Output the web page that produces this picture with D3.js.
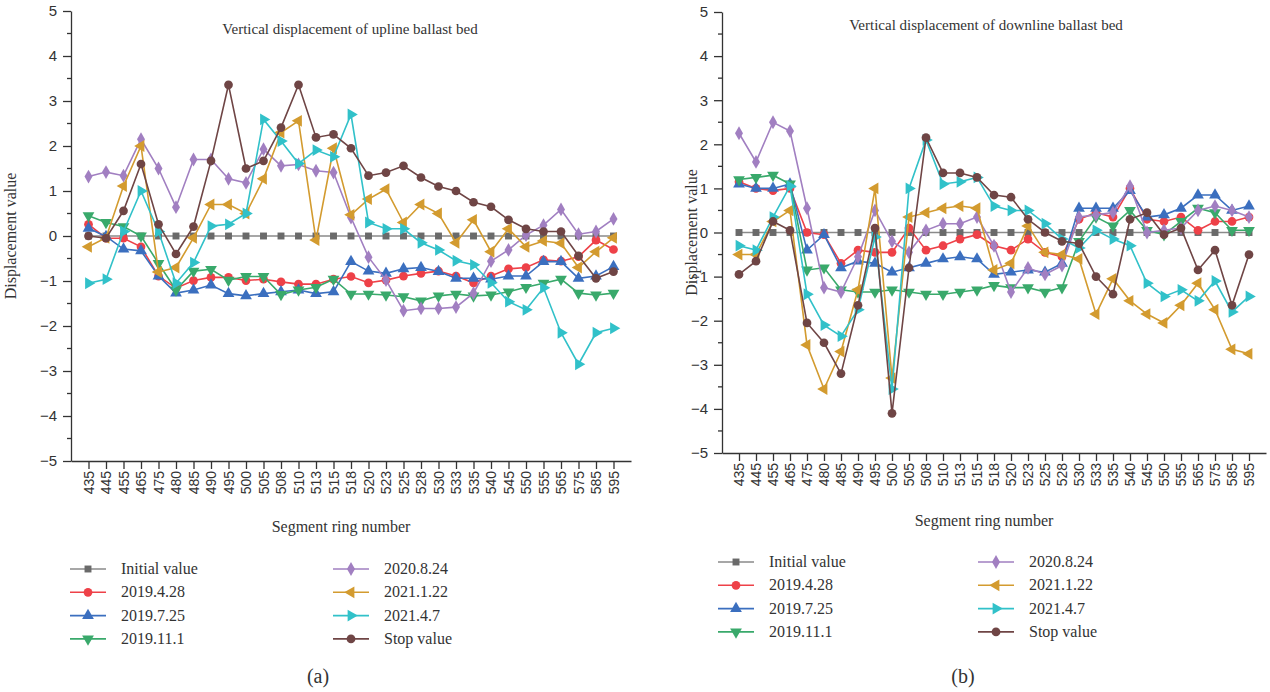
<!DOCTYPE html>
<html lang="en">
<head>
<meta charset="UTF-8">
<title>Vertical displacement of ballast bed</title>
<script src="https://d3js.org/d3.v7.min.js"></script>
<style>
body {
  margin: 0;
  background: #fff;
}
svg {
  font-family: "Liberation Serif", "DejaVu Serif", serif;
}
.tick text {
  fill: #333;
}
</style>
</head>
<body>
<svg id="chart" width="1270" height="692"></svg>
<script>

// ring numbers on the x axis (same for both panels)
var rings = ["435","445","455","465","475","480","485","490","495","500","505","508","510","513","515",
  "518","520","523","525","528","530","533","535","540","545","550","555","565","575","585","595"];

var seriesNames = ["Initial value", "2019.4.28", "2019.7.25", "2019.11.1",
  "2020.8.24", "2021.1.22", "2021.4.7", "Stop value"];

// (a) upline ballast bed
var upInitial = rings.map(function() { return 0; });
var up20190428 = [0.26,-0.05,-0.05,-0.24,-0.89,-1.16,-0.99,-0.92,-0.92,-0.99,-0.96,-1.02,-1.07,-1.07,-0.96,
  -0.9,-1.04,-0.98,-0.89,-0.83,-0.78,-0.89,-1.04,-0.89,-0.73,-0.7,-0.53,-0.56,-0.46,-0.09,-0.3];
var up20190725 = [0.17,-0.01,-0.29,-0.33,-0.89,-1.27,-1.2,-1.09,-1.28,-1.33,-1.28,-1.24,-1.2,-1.28,-1.24,
  -0.57,-0.78,-0.83,-0.73,-0.7,-0.79,-0.94,-0.94,-0.96,-0.89,-0.89,-0.57,-0.57,-0.94,-0.89,-0.68];
var up20191101 = [0.45,0.3,0.21,0.0,-0.61,-1.2,-0.78,-0.74,-0.98,-0.9,-0.9,-1.3,-1.2,-1.14,-0.96,
  -1.29,-1.29,-1.31,-1.35,-1.44,-1.33,-1.29,-1.33,-1.31,-1.24,-1.14,-1.05,-0.96,-1.27,-1.31,-1.27];
var up20200824 = [1.32,1.42,1.34,2.15,1.5,0.64,1.7,1.7,1.27,1.18,1.93,1.56,1.59,1.45,1.41,
  0.41,-0.47,-0.98,-1.66,-1.61,-1.61,-1.58,-1.27,-0.56,-0.31,0.02,0.24,0.59,0.04,0.1,0.38];
var up20210122 = [-0.24,-0.04,1.11,2.0,-0.8,-0.7,-0.04,0.7,0.7,0.5,1.27,2.3,2.56,-0.09,1.95,
  0.47,0.82,1.04,0.3,0.7,0.5,-0.15,0.36,-0.35,0.16,-0.24,-0.11,-0.16,-0.7,-0.35,-0.04];
var up20210407 = [-1.05,-0.96,0.1,1.0,0.1,-1.05,-0.59,0.22,0.26,0.5,2.59,2.11,1.61,1.91,1.76,
  2.7,0.3,0.16,0.16,-0.15,-0.31,-0.55,-0.64,-1.04,-1.46,-1.64,-1.15,-2.15,-2.85,-2.15,-2.05];
var upStop = [0.0,-0.05,0.56,1.6,0.26,-0.4,0.21,1.67,3.36,1.5,1.67,2.41,3.36,2.19,2.26,
  1.95,1.34,1.41,1.56,1.3,1.1,1.0,0.75,0.65,0.36,0.16,0.1,0.1,-0.44,-0.94,-0.79];

// (b) downline ballast bed
var downInitial = rings.map(function() { return 0; });
var down20190428 = [1.15,1.0,0.95,1.0,0.0,-0.05,-0.7,-0.4,-0.45,-0.45,0.1,-0.4,-0.3,-0.15,-0.05,
  -0.3,-0.4,-0.15,-0.45,-0.55,0.3,0.45,0.35,1.0,0.3,0.25,0.35,0.05,0.25,0.25,0.35];
var down20190725 = [1.1,1.0,1.0,1.1,-0.4,-0.05,-0.8,-0.65,-0.7,-0.9,-0.8,-0.7,-0.6,-0.55,-0.6,
  -0.95,-0.9,-0.85,-0.9,-0.7,0.55,0.55,0.55,0.95,0.35,0.4,0.55,0.85,0.85,0.5,0.6];
var down20191101 = [1.2,1.25,1.3,1.1,-0.85,-0.8,-1.3,-1.35,-1.35,-1.3,-1.35,-1.4,-1.4,-1.35,-1.3,
  -1.2,-1.25,-1.25,-1.35,-1.25,-0.2,0.35,0.15,0.5,0.05,-0.05,0.25,0.55,0.45,0.05,0.05];
var down20200824 = [2.25,1.6,2.5,2.3,0.55,-1.25,-1.35,-0.55,0.5,-0.2,-0.45,0.05,0.2,0.2,0.35,
  -0.3,-1.35,-0.8,-0.95,-0.75,0.35,0.4,0.45,1.05,0.0,0.05,0.1,0.5,0.6,0.5,0.35];
var down20210122 = [-0.5,-0.5,0.25,0.5,-2.55,-3.55,-2.7,-1.3,1.0,-3.3,0.35,0.45,0.55,0.6,0.55,
  -0.85,-0.7,0.15,-0.45,-0.5,-0.6,-1.85,-1.05,-1.55,-1.85,-2.05,-1.65,-1.15,-1.75,-2.65,-2.75];
var down20210407 = [-0.3,-0.4,0.35,1.05,-1.4,-2.1,-2.35,-1.75,-0.1,-3.55,1.0,2.1,1.1,1.15,1.25,
  0.6,0.5,0.5,0.2,-0.15,-0.35,0.05,-0.15,-0.3,-1.15,-1.45,-1.3,-1.55,-1.1,-1.8,-1.45];
var downStop = [-0.95,-0.65,0.25,0.05,-2.05,-2.5,-3.2,-1.65,0.1,-4.1,-0.8,2.15,1.35,1.35,1.25,
  0.85,0.8,0.3,0.0,-0.2,-0.25,-1.0,-1.4,0.3,0.45,-0.05,0.1,-0.85,-0.4,-1.65,-0.5];

var yTicks = [-5,-4,-3,-2,-1,0,1,2,3,4,5];

// styles
var lineColors = ["#8a8a8a","#ee4148","#3b6fbf","#39a96b","#a17fc1","#d39b2f","#31c1c9","#6f4545"];
var markColors = ["#6a6a6a","#ee4148","#3b6fbf","#39a96b","#a17fc1","#d39b2f","#31c1c9","#6f4545"];
var symbols = [
  {type: d3.symbolSquare, size: 48, rot: 0},
  {type: d3.symbolCircle, size: 60, rot: 0},
  {type: d3.symbolTriangle, size: 60, rot: 0},
  {type: d3.symbolTriangle, size: 60, rot: 180},
  {type: d3.symbolDiamond, size: 55, rot: 0},
  {type: d3.symbolTriangle, size: 60, rot: -90},
  {type: d3.symbolTriangle, size: 60, rot: 90},
  {type: d3.symbolCircle, size: 60, rot: 0}
];

var svg = d3.select("#chart");

function drawPanel(cfg) {
  var x = d3.scalePoint().domain(rings).range([cfg.left, cfg.right]).padding(1);
  var y = d3.scaleLinear().domain([-5, 5]).range([cfg.bottom, cfg.top]);
  var g = svg.append("g");

  // minor ticks at the half units
  var minor = d3.range(-4.5, 5, 1);
  g.append("g")
    .selectAll("line").data(minor).join("line")
    .attr("x1", cfg.left - 4).attr("x2", cfg.left)
    .attr("y1", function(d) { return y(d); }).attr("y2", function(d) { return y(d); })
    .attr("stroke", "#333").attr("stroke-width", 1.3);

  var yAxis = g.append("g")
    .attr("transform", "translate(" + cfg.left + ",0)")
    .call(d3.axisLeft(y).tickValues(yTicks).tickSize(8).tickPadding(6).tickSizeOuter(0));
  yAxis.selectAll("text").style("font-size", "15px");

  var xAxis = g.append("g")
    .attr("transform", "translate(0," + cfg.bottom + ")")
    .call(d3.axisBottom(x).tickSize(8).tickSizeOuter(0));
  xAxis.selectAll("text")
    .style("font-size", "14px")
    .attr("text-anchor", "end")
    .attr("dx", "-8px").attr("dy", "0.35em")
    .attr("x", 0).attr("y", 0)
    .attr("transform", "rotate(-90) translate(-2,0)");
  g.selectAll(".domain, .tick line").attr("stroke", "#333").attr("stroke-width", 1.3);

  cfg.series.forEach(function(vals, k) {
    var line = d3.line()
      .x(function(d, i) { return x(rings[i]); })
      .y(function(d) { return y(d); });
    g.append("path").datum(vals)
      .attr("d", line)
      .attr("fill", "none")
      .attr("stroke", lineColors[k])
      .attr("stroke-width", 1.6);
    var sym = d3.symbol().type(symbols[k].type).size(symbols[k].size);
    g.append("g").selectAll("path").data(vals).join("path")
      .attr("d", sym)
      .attr("transform", function(d, i) {
        return "translate(" + x(rings[i]) + "," + y(d) + ") rotate(" + symbols[k].rot + ")";
      })
      .attr("fill", markColors[k]);
  });

  var mid = (cfg.left + cfg.right) / 2;
  g.append("text").attr("x", cfg.titleX).attr("y", cfg.titleY)
    .attr("text-anchor", "middle").style("font-size", "15px").attr("fill", "#333")
    .text(cfg.title);
  g.append("text").attr("x", mid - 10).attr("y", cfg.xTitleY)
    .attr("text-anchor", "middle").style("font-size", "16px").attr("fill", "#333")
    .text("Segment ring number");
  g.append("text")
    .attr("transform", "translate(" + cfg.yTitleX + "," + ((cfg.top + cfg.bottom) / 2) + ") rotate(-90)")
    .attr("text-anchor", "middle").style("font-size", "16px").attr("fill", "#333")
    .text("Displacement value");

  // legend, two columns of four
  seriesNames.forEach(function(name, k) {
    var col = Math.floor(k / 4), row = k % 4;
    var lx = cfg.legX[col], ly = cfg.legY + row * 23.3;
    g.append("line").attr("x1", lx).attr("x2", lx + 36).attr("y1", ly).attr("y2", ly)
      .attr("stroke", lineColors[k]).attr("stroke-width", 1.6);
    g.append("path")
      .attr("d", d3.symbol().type(symbols[k].type).size(symbols[k].size)())
      .attr("transform", "translate(" + (lx + 18) + "," + ly + ") rotate(" + symbols[k].rot + ")")
      .attr("fill", markColors[k]);
    g.append("text").attr("x", lx + 51).attr("y", ly + 5)
      .style("font-size", "16px").attr("fill", "#333").text(name);
  });

  g.append("text").attr("x", cfg.tagX).attr("y", 683)
    .attr("text-anchor", "middle").style("font-size", "20px").attr("fill", "#333")
    .text(cfg.tag);
}

drawPanel({
  left: 71, right: 631, top: 11, bottom: 461,
  series: [upInitial, up20190428, up20190725, up20191101, up20200824, up20210122, up20210407, upStop],
  title: "Vertical displacement of upline ballast bed", titleX: 350, titleY: 34,
  xTitleY: 532, yTitleX: 16,
  legX: [70, 333], legY: 569, tag: "(a)", tagX: 318
});

drawPanel({
  left: 722, right: 1266, top: 12, bottom: 453,
  series: [downInitial, down20190428, down20190725, down20191101, down20200824, down20210122, down20210407, downStop],
  title: "Vertical displacement of downline ballast bed", titleX: 986, titleY: 30,
  xTitleY: 526, yTitleX: 697,
  legX: [718, 978], legY: 562, tag: "(b)", tagX: 963
});

</script>
</body>
</html>
